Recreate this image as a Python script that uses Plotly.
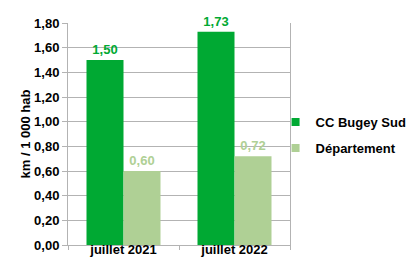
import plotly.graph_objects as go

categories = ["juillet 2021", "juillet 2022"]
cc_bugey = [1.50, 1.73]
departement = [0.60, 0.72]
series_names = ["CC Bugey Sud", "Département"]
colors = ["#00A933", "#AFD095"]
y_ticks = [0, 0.2, 0.4, 0.6, 0.8, 1.0, 1.2, 1.4, 1.6, 1.8]

FONT = "Liberation Sans"

fig = go.Figure()
for vals, name, col in zip([cc_bugey, departement], series_names, colors):
    fig.add_trace(go.Bar(
        x=categories, y=vals, name=name, marker_color=col, marker_line_width=0,
        texttemplate="%{y:.2f}", textposition="outside", cliponaxis=False,
        textfont=dict(color=col, size=13, family=FONT, weight="bold"),
        showlegend=False,
    ))
for name, col in zip(series_names, colors):
    fig.add_trace(go.Scatter(
        x=[None], y=[None], mode="markers", name=name, legendgroup=name,
        marker=dict(symbol="square", size=8, color=col),
    ))

fig.update_layout(
    width=415, height=257,
    margin=dict(l=59.5, r=133, t=15, b=20, autoexpand=False),
    barmode="group", bargap=1/3, bargroupgap=0,
    separators=", ",
    plot_bgcolor="white", paper_bgcolor="white",
    font=dict(family=FONT, size=13, color="black", weight="bold"),
    legend=dict(x=0.935, y=0.495, xanchor="left", yanchor="middle",
                font=dict(size=13, weight="bold", family=FONT), tracegroupgap=6,
                itemwidth=30, bgcolor="rgba(0,0,0,0)"),
    showlegend=True,
)
fig.update_yaxes(
    range=[0, 1.8], tickvals=y_ticks, tickformat=".2f",
    showgrid=True, gridcolor="#b3b3b3", gridwidth=1,
    showline=True, linecolor="#b3b3b3", linewidth=1, mirror=True,
    ticks="outside", ticklen=5, tickcolor="#b3b3b3",
    zeroline=False,
    title=dict(text="km / 1 000 hab", standoff=0, font=dict(size=13, weight="bold", family=FONT)),
    tickfont=dict(size=13, weight="bold", family=FONT),
)
fig.update_xaxes(
    showline=True, linecolor="#b3b3b3", linewidth=1,
    ticks="outside", tickson="boundaries", ticklen=4, tickcolor="#b3b3b3",
    ticklabelstandoff=-8,
    tickfont=dict(size=13, weight="bold", family=FONT),
)
fig.write_html("out.html")
